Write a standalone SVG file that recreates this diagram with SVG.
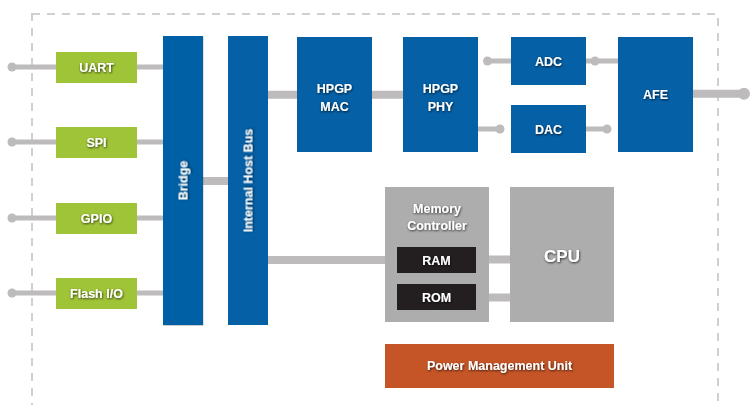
<svg xmlns="http://www.w3.org/2000/svg" width="751" height="405" viewBox="0 0 751 405">
<defs>
<filter id="ts" x="-20%" y="-30%" width="140%" height="160%">
<feDropShadow dx="0.6" dy="1" stdDeviation="0.9" flood-color="#000" flood-opacity="0.75"/>
</filter>
<filter id="bs" x="-10%" y="-10%" width="120%" height="120%">
<feDropShadow dx="0.5" dy="0.8" stdDeviation="0.6" flood-color="#000" flood-opacity="0.25"/>
</filter>
</defs>
<style>
.t{font-family:"Liberation Sans",Arial,sans-serif;font-weight:bold;fill:#fff;text-anchor:middle;font-size:12.5px;filter:url(#ts)}
.blue{fill:#0560a6}
.green{fill:#a0c437}
.grey{fill:#adadad}
.dark{fill:#231f20}
.orange{fill:#c55527}
.c{stroke:#bdbbbc;fill:none}
.d{fill:#bdbbbc}
</style>
<rect x="32" y="14" width="686" height="420" fill="none" stroke="#d0d0d0" stroke-width="2" stroke-dasharray="8,7"/>
<g id="connectors">
<path class="c" stroke-width="5" d="M12 67H163M12 142H163M12 218H163M12 293H163"/>
<circle class="d" cx="12" cy="67" r="4.5"/>
<circle class="d" cx="12" cy="142" r="4.5"/>
<circle class="d" cx="12" cy="218" r="4.5"/>
<circle class="d" cx="12" cy="293" r="4.5"/>
<path class="c" stroke-width="8" d="M203 181H228M268 94.7H297M372 94.7H403M268 260H385M489 259.5H510M489 297.5H510"/>
<path class="c" stroke-width="5" d="M487.5 61H511M586 61H618M478 129H500M586 129H607"/>
<circle class="d" cx="487.5" cy="61" r="4.5"/>
<circle class="d" cx="595" cy="61" r="4.5"/>
<circle class="d" cx="500" cy="129" r="4.5"/>
<circle class="d" cx="607" cy="129" r="4.5"/>
<path class="c" stroke-width="8" d="M693 93.7H744"/>
<circle class="d" cx="744" cy="93.7" r="6"/>
</g>
<g id="uart"><rect class="green" x="56" y="52" width="81" height="31"/><text class="t" x="96.5" y="72">UART</text></g>
<g id="spi"><rect class="green" x="56" y="127" width="81" height="31"/><text class="t" x="96.5" y="147">SPI</text></g>
<g id="gpio"><rect class="green" x="56" y="203" width="81" height="31"/><text class="t" x="96.5" y="223">GPIO</text></g>
<g id="flash"><rect class="green" x="56" y="278" width="81" height="31"/><text class="t" x="96.5" y="298">Flash I/O</text></g>
<g id="bridge"><rect class="blue" x="163" y="36" width="40" height="289" filter="url(#bs)"/><text class="t" transform="translate(187.5 180.5) rotate(-90)">Bridge</text></g>
<g id="bus"><rect class="blue" x="228" y="36" width="40" height="289"/><text class="t" transform="translate(252.5 180.5) rotate(-90)">Internal Host Bus</text></g>
<g id="mac"><rect class="blue" x="297" y="37" width="75" height="115"/><text class="t" x="334.5" y="93">HPGP</text><text class="t" x="334.5" y="111">MAC</text></g>
<g id="phy"><rect class="blue" x="403" y="37" width="75" height="115"/><text class="t" x="440.5" y="93">HPGP</text><text class="t" x="440.5" y="111">PHY</text></g>
<g id="adc"><rect class="blue" x="511" y="37" width="75" height="48"/><text class="t" x="548.5" y="66">ADC</text></g>
<g id="dac"><rect class="blue" x="511" y="105" width="75" height="48"/><text class="t" x="548.5" y="134">DAC</text></g>
<g id="afe"><rect class="blue" x="618" y="37" width="75" height="115"/><text class="t" x="655.5" y="99">AFE</text></g>
<g id="memctrl"><rect class="grey" x="385" y="187" width="104" height="135"/><text class="t" x="437" y="213">Memory</text><text class="t" x="437" y="230">Controller</text></g>
<g id="ram"><rect class="dark" x="397" y="247" width="79" height="26"/><text class="t" x="436.5" y="265">RAM</text></g>
<g id="rom"><rect class="dark" x="397" y="284" width="79" height="26"/><text class="t" x="436.5" y="302">ROM</text></g>
<g id="cpu"><rect class="grey" x="510" y="187" width="104" height="135"/><text class="t" x="562" y="262" style="font-size:17px">CPU</text></g>
<g id="pmu"><rect class="orange" x="385" y="344" width="229" height="44"/><text class="t" x="499.5" y="370">Power Management Unit</text></g>
</svg>
